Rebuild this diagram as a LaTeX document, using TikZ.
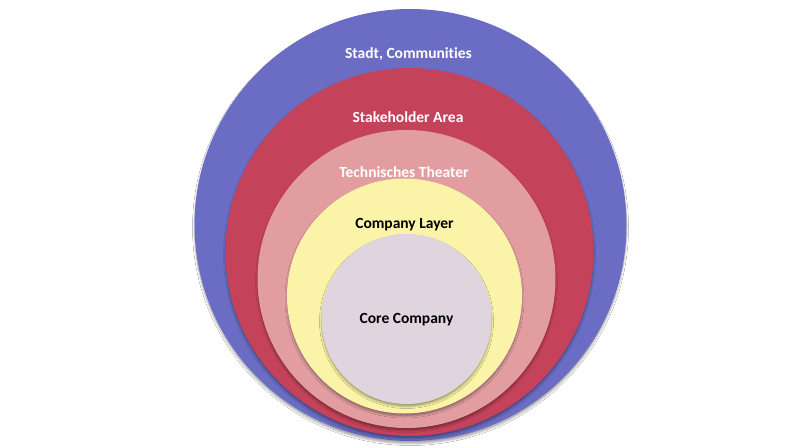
\documentclass[tikz,border=0pt]{standalone}
\usepackage{fontspec}
\setmainfont{Carlito}[Ligatures=NoCommon]
\usetikzlibrary{shadows.blur}
\definecolor{cblue}{HTML}{6A6DC3}
\definecolor{cred}{HTML}{C4425A}
\definecolor{cpink}{HTML}{E29DA1}
\definecolor{cyellow}{HTML}{FBF4A8}
\definecolor{ccore}{HTML}{E0D5DF}
\begin{document}
\begin{tikzpicture}[x=1pt,y=-1pt,
  ring/.style={circle, inner sep=0pt, draw=none,
    blur shadow={shadow xshift=0pt, shadow yshift=-2.5pt, shadow blur radius=2pt, shadow opacity=35}},
  lbl/.style={font=\fontsize{15.5}{18}\selectfont\bfseries, inner sep=0pt, anchor=base}]
\useasboundingbox (0,0) rectangle (800,447);
\fill[white] (0,0) rectangle (800,447);
\node[ring, fill=cblue, minimum size=432pt] (city) at (410.5,225) {};
\node[ring, fill=cred, minimum size=368pt] (stake) at (409.5,252) {};
\node[ring, fill=cpink, minimum size=298pt] (tech) at (406.5,279) {};
\node[ring, fill=cyellow, minimum size=235pt] (layer) at (404.5,296) {};
\node[ring, fill=ccore, minimum size=170pt] (core) at (406.5,319) {};
\node[lbl, text=white] (tcity) at (408.5,58) {Stadt, Communi\kern0pt t\kern0pt ies};
\node[lbl, text=white] (tstake) at (408,122) {Stakeholder Area};
\node[lbl, text=white] (ttech) at (404,177) {Technisches Theater};
\node[lbl, text=black] (tlayer) at (404.5,228) {Company Layer};
\node[lbl, text=black] (tcore) at (406.5,323) {Core Company};
\end{tikzpicture}
\end{document}
